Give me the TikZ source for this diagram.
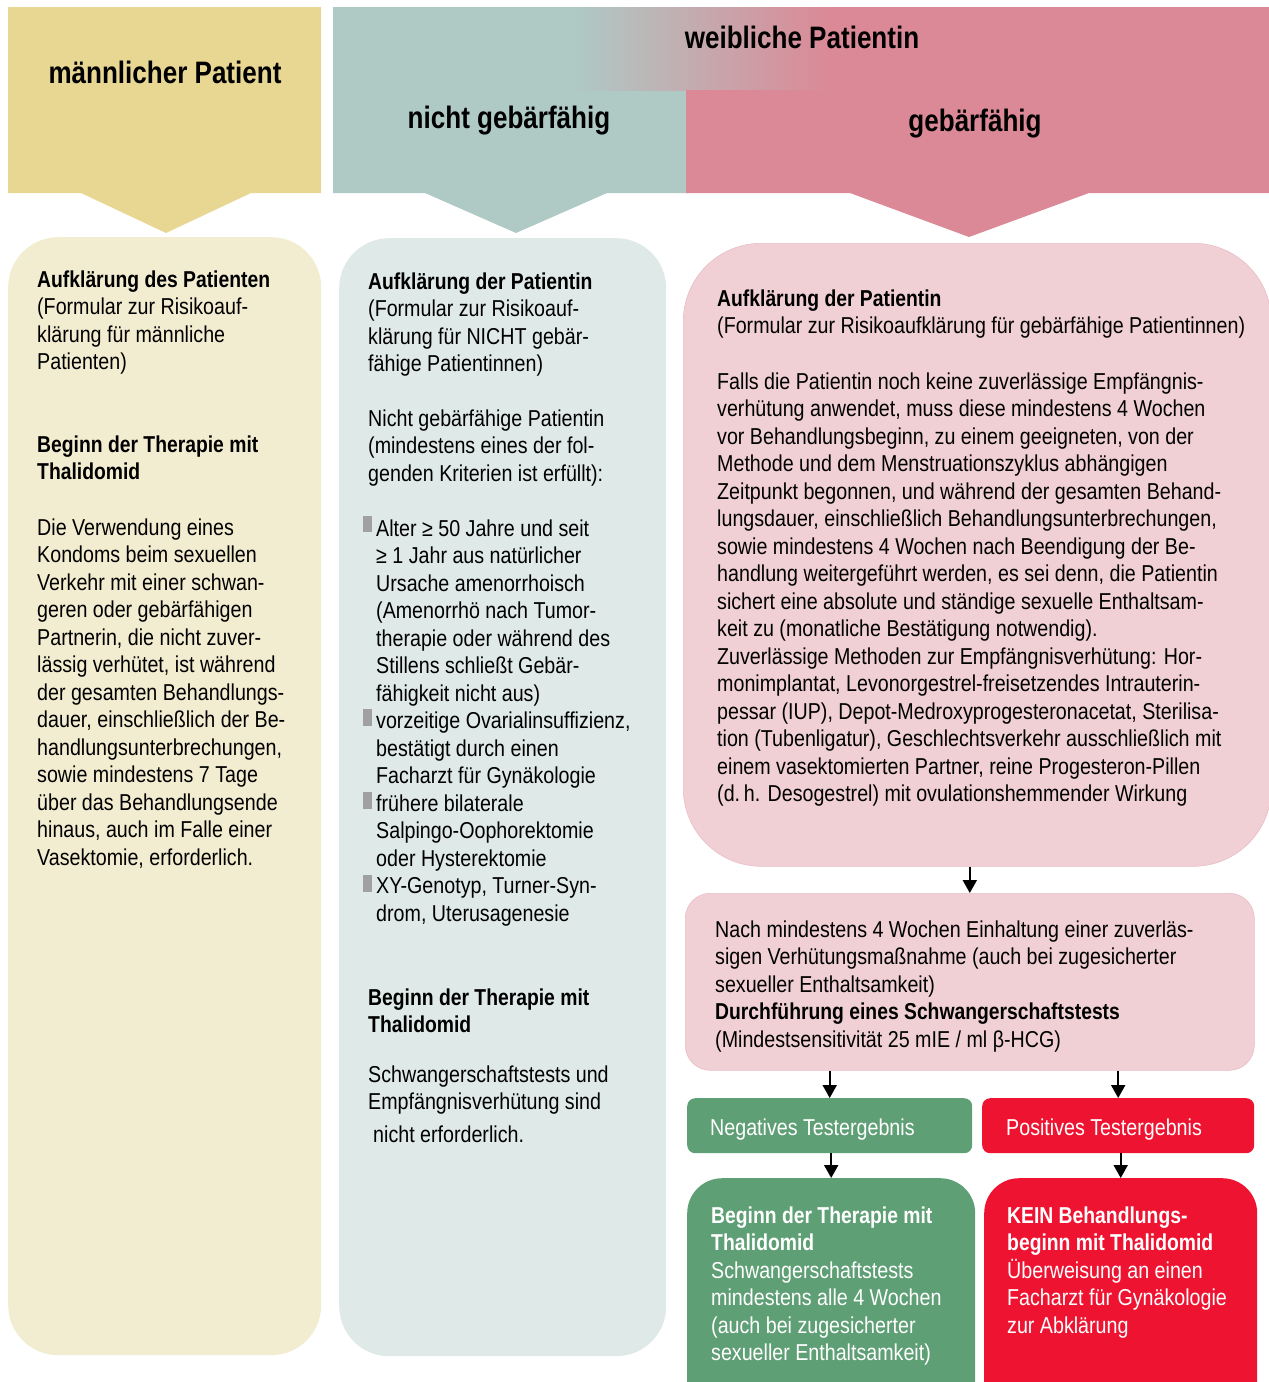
\documentclass[tikz,border=0pt]{standalone}
\usepackage{fontspec}
\setmainfont[FakeStretch=0.855, BoldFeatures={FakeStretch=0.84}]{Liberation Sans}
\usetikzlibrary{arrows.meta}
\definecolor{maleh}{RGB}{232,214,147}
\definecolor{maleb}{RGB}{242,237,208}
\definecolor{tealh}{RGB}{175,201,197}
\definecolor{tealb}{RGB}{223,233,231}
\definecolor{pinkh}{RGB}{219,137,150}
\definecolor{pinkb}{RGB}{240,208,213}
\definecolor{pinkbd}{RGB}{232,190,198}
\definecolor{greenb}{RGB}{95,159,117}
\definecolor{redb}{RGB}{238,20,49}
\definecolor{bulletg}{RGB}{160,160,160}
\newcommand{\tl}[1]{\begin{tabular}[t]{@{}l@{}}#1\end{tabular}}
\tikzset{
  txt/.style={anchor=base west, inner sep=0pt, font=\fontsize{23}{27.5}\selectfont},
  head/.style={inner sep=0pt, font=\fontsize{31}{36}\selectfont\bfseries},
  bodybox/.style={anchor=north west, inner sep=0pt, draw=none},
  arr/.style={-{Triangle[width=14pt,length=13pt]}, line width=2pt, black},
  bul/.style={fill=bulletg}
}
\begin{document}
\begin{tikzpicture}[x=1pt,y=-1pt]
\useasboundingbox (0,0) rectangle (1269,1382);
% headers
\fill[maleh] (8,7) -- (321,7) -- (321,193) -- (251,193) -- (166,233) -- (81,193) -- (8,193) -- cycle;
\fill[tealh] (333,7) -- (688,7) -- (688,193) -- (607,193) -- (516,233) -- (425,193) -- (333,193) -- cycle;
\shade[left color=tealh,right color=pinkh] (575,7) rectangle (830,90);
\fill[pinkh] (830,7) -- (1269,7) -- (1269,193) -- (1089,193) -- (969,237) -- (850,193) -- (686,193) -- (686,90) -- (830,90) -- cycle;
\node[head] (hm) at (165,72) {männlicher Patient};
\node[head] (hw) at (802,37) {weibliche Patientin};
\node[head] (hn) at (509,121) {nicht gebärfähig};
\node[head] (hg) at (975,124) {gebärfähig};
% body boxes
\node[bodybox, fill=maleb, rounded corners=50pt, minimum width=313pt, minimum height=1118pt] (mb) at (8,237) {};
\node[bodybox, fill=tealb, rounded corners=50pt, minimum width=327pt, minimum height=1118pt] (tb) at (339,238) {};
\node[bodybox, fill=pinkb, draw=pinkbd, line width=0.6pt, rounded corners=78pt, minimum width=588pt, minimum height=623pt] (pb) at (683,243) {};
\node[bodybox, fill=pinkb, draw=pinkbd, line width=0.6pt, rounded corners=25pt, minimum width=569pt, minimum height=177pt] (mid) at (685,893) {};
\node[bodybox, fill=greenb, rounded corners=8pt, minimum width=285pt, minimum height=55pt] (neg) at (687,1098) {};
\node[bodybox, fill=redb, rounded corners=8pt, minimum width=272pt, minimum height=55pt] (pos) at (982,1098) {};
\node[bodybox, fill=greenb, rounded corners=35pt, minimum width=288pt, minimum height=260pt] (gfin) at (687,1178) {};
\node[bodybox, fill=redb, rounded corners=35pt, minimum width=273pt, minimum height=260pt] (rfin) at (984,1178) {};
% arrows
\draw[arr] (mid.north |- pb.south) -- (mid.north);
\draw[arr] (neg.north |- mid.south) -- (neg.north);
\draw[arr] (pos.north |- mid.south) -- (pos.north);
\draw[arr] (gfin.north |- neg.south) -- (gfin.north);
\draw[arr] (rfin.north |- pos.south) -- (rfin.north);
% male texts
\node[txt] (m1) at (37,287) {\tl{\textbf{Aufklärung des Patienten}\\(Formular zur Risikoauf-\\klärung für männliche\\Patienten)}};
\node[txt] (m2) at (37,452) {\tl{\textbf{Beginn der Therapie mit}\\\textbf{Thalidomid}}};
\node[txt] (m3) at (37,535) {\tl{Die Verwendung eines\\Kondoms beim sexuellen\\Verkehr mit einer schwan-\\geren oder gebärfähigen\\Partnerin, die nicht zuver-\\lässig verhütet, ist während\\der gesamten Behandlungs-\\dauer, einschließlich der Be-\\handlungsunterbrechungen,\\sowie mindestens 7 Tage\\über das Behandlungsende\\hinaus, auch im Falle einer\\Vasektomie, erforderlich.}};
% teal texts
\node[txt] (t1) at (368,289) {\tl{\textbf{Aufklärung der Patientin}\\(Formular zur Risikoauf-\\klärung für NICHT gebär-\\fähige Patientinnen)}};
\node[txt] (t2) at (368,426) {\tl{Nicht gebärfähige Patientin\\(mindestens eines der fol-\\genden Kriterien ist erfüllt):}};
\node[txt] (t3) at (376,536) {\tl{Alter ≥ 50 Jahre und seit\\≥ 1 Jahr aus natürlicher\\Ursache amenorrhoisch\\(Amenorrhö nach Tumor-\\therapie oder während des\\Stillens schließt Gebär-\\fähigkeit nicht aus)\\vorzeitige Ovarialinsuffizienz,\\bestätigt durch einen\\Facharzt für Gynäkologie\\frühere bilaterale\\Salpingo-Oophorektomie\\oder Hysterektomie\\XY-Genotyp, Turner-Syn-\\drom, Uterusagenesie}};
\fill[bul] (363,516) rectangle (372,532);
\fill[bul] (363,709) rectangle (372,726);
\fill[bul] (363,792) rectangle (372,809);
\fill[bul] (363,875) rectangle (372,892);
\node[txt] (t4) at (368,1005) {\tl{\textbf{Beginn der Therapie mit}\\\textbf{Thalidomid}}};
\node[txt] (t5) at (368,1082) {\tl{Schwangerschaftstests und\\Empfängnisverhütung sind\\[5pt]\hspace{5pt}nicht erforderlich.}};
% pink texts
\node[txt] (p1) at (717,306) {\tl{\textbf{Aufklärung der Patientin}\\(Formular zur Risikoaufklärung für gebärfähige Patientinnen)}};
\node[txt] (p2) at (717,389) {\tl{Falls die Patientin noch keine zuverlässige Empfängnis-\\verhütung anwendet, muss diese mindestens 4 Wochen\\vor Behandlungsbeginn, zu einem geeigneten, von der\\Methode und dem Menstruationszyklus abhängigen\\Zeitpunkt begonnen, und während der gesamten Behand-\\lungsdauer, einschließlich Behandlungsunterbrechungen,\\sowie mindestens 4 Wochen nach Beendigung der Be-\\handlung weitergeführt werden, es sei denn, die Patientin\\sichert eine absolute und ständige sexuelle Enthaltsam-\\keit zu (monatliche Bestätigung notwendig).\\Zuverlässige Methoden zur Empfängnisverhütung: Hor-\\monimplantat, Levonorgestrel-freisetzendes Intrauterin-\\pessar (IUP), Depot-Medroxyprogesteronacetat, Sterilisa-\\tion (Tubenligatur), Geschlechtsverkehr ausschließlich mit\\einem vasektomierten Partner, reine Progesteron-Pillen\\(d.\,h. Desogestrel) mit ovulationshemmender Wirkung}};
\node[txt] (q1) at (715,937) {\tl{Nach mindestens 4 Wochen Einhaltung einer zuverläs-\\sigen Verhütungsmaßnahme (auch bei zugesicherter\\sexueller Enthaltsamkeit)\\\textbf{Durchführung eines Schwangerschaftstests}\\(Mindestsensitivität 25 mIE / ml β-HCG)}};
\node[txt, text=white] (nt) at (710,1135) {Negatives Testergebnis};
\node[txt, text=white] (pt) at (1006,1135) {Positives Testergebnis};
\node[txt, text=white] (gt) at (711,1223) {\tl{\textbf{Beginn der Therapie mit}\\\textbf{Thalidomid}\\Schwangerschaftstests\\mindestens alle 4 Wochen\\(auch bei zugesicherter\\sexueller Enthaltsamkeit)}};
\node[txt, text=white] (rt) at (1007,1223) {\tl{\textbf{KEIN Behandlungs-}\\\textbf{beginn mit Thalidomid}\\Überweisung an einen\\Facharzt für Gynäkologie\\zur Abklärung}};
\end{tikzpicture}
\end{document}
